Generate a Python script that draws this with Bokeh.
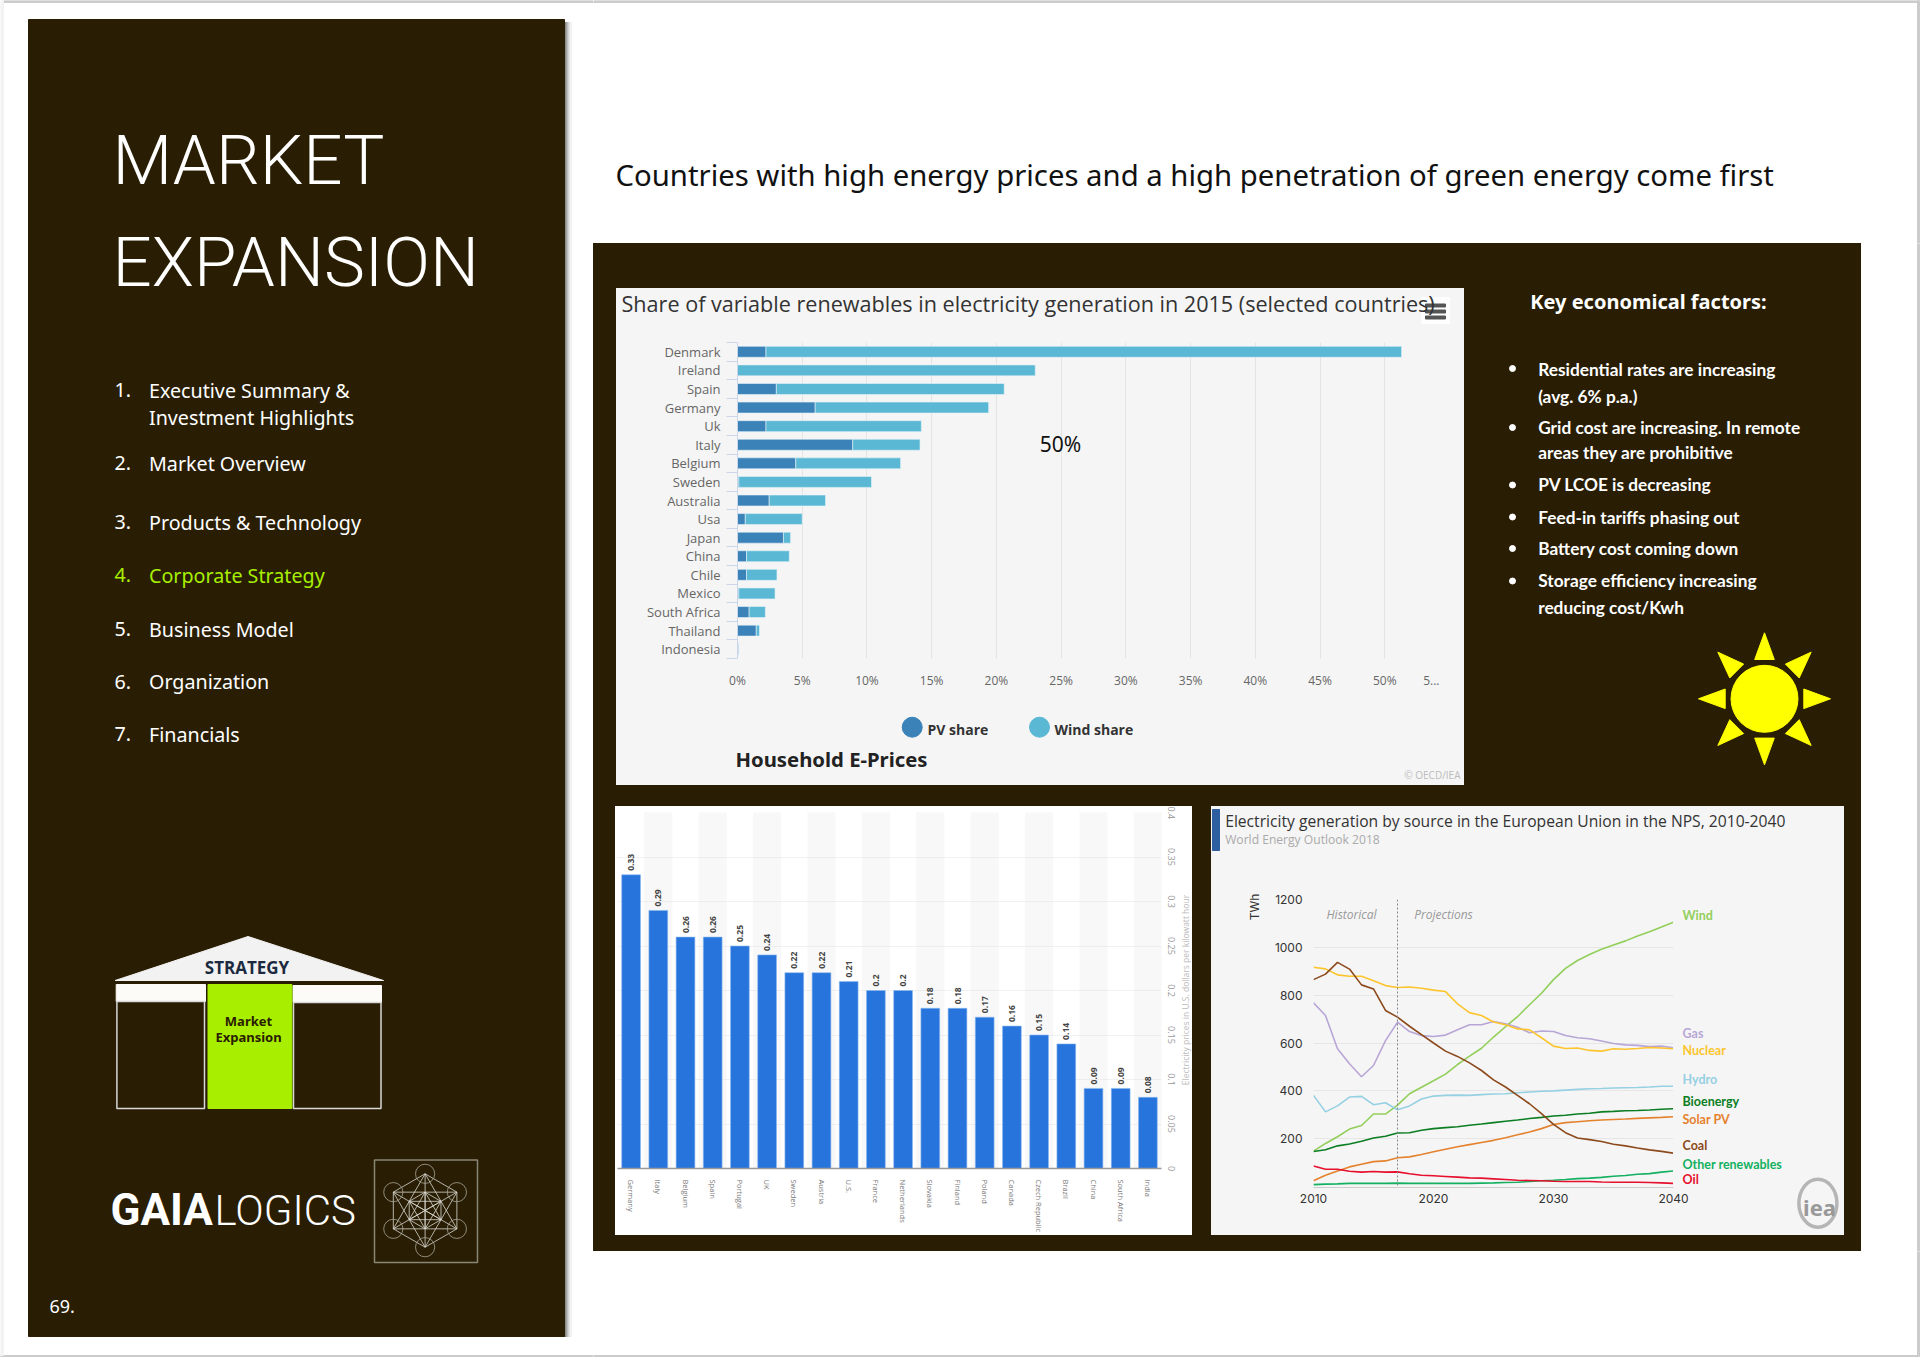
import math
from bokeh.plotting import figure
from bokeh.layouts import row, column
from bokeh.models import (Label, Range1d, FactorRange, LinearAxis, FixedTicker,
                          ColumnDataSource, Span)
from bokeh.embed import file_html
from bokeh.resources import INLINE
from bokeh.core.properties import value

# ---------- data ----------
heading_lines = ["MARKET", "EXPANSION"]
menu_numbers = ["1.", "2.", "3.", "4.", "5.", "6.", "7."]
menu_entries = ["Executive Summary &\nInvestment Highlights", "Market Overview", "Products & Technology",
                "Corporate Strategy", "Business Model", "Organization", "Financials"]
slide_title = "Countries with high energy prices and a high penetration of green energy come first"
key_heading = "Key economical factors:"
key_lines = ["Residential rates are increasing", "(avg. 6% p.a.)", "Grid cost are increasing. In remote",
             "areas they are prohibitive", "PV LCOE is decreasing", "Feed-in tariffs phasing out",
             "Battery cost coming down", "Storage efficiency increasing", "reducing cost/Kwh"]

share_countries = ["Denmark", "Ireland", "Spain", "Germany", "Uk", "Italy", "Belgium", "Sweden", "Australia",
                   "Usa", "Japan", "China", "Chile", "Mexico", "South Africa", "Thailand", "Indonesia"]
pv_share = [2.2, 0.0, 3.0, 6.0, 2.2, 8.9, 4.5, 0.1, 2.45, 0.6, 3.55, 0.7, 0.7, 0.1, 0.9, 1.45, 0.1]
wind_share = [49.1, 23.0, 17.6, 13.4, 12.0, 5.2, 8.1, 10.25, 4.35, 4.4, 0.55, 3.3, 2.35, 2.8, 1.25, 0.25, 0.0]
share_ticks = [0, 5, 10, 15, 20, 25, 30, 35, 40, 45, 50, 55]
share_label_ticks = [0, 5, 10, 15, 20, 25, 30, 35, 40, 45, 50, 53.6]
share_tick_labels = ["0%", "5%", "10%", "15%", "20%", "25%", "30%", "35%", "40%", "45%", "50%", "5..."]

price_countries = ["Germany", "Italy", "Belgium", "Spain", "Portugal", "UK", "Sweden", "Austria", "U.S.", "France",
                   "Netherlands", "Slovakia", "Finland", "Poland", "Canada", "Czech Republic", "Brazil", "China",
                   "South Africa", "India"]
price_values = [0.33, 0.29, 0.26, 0.26, 0.25, 0.24, 0.22, 0.22, 0.21, 0.2, 0.2, 0.18, 0.18, 0.17, 0.16, 0.15, 0.14,
                0.09, 0.09, 0.08]
price_ticks = [0, 0.05, 0.1, 0.15, 0.2, 0.25, 0.3, 0.35, 0.4]
price_tick_labels = ["0", "0.05", "0.1", "0.15", "0.2", "0.25", "0.3", "0.35", "0.4"]

years = list(range(2010, 2041))
wind = [148, 180, 208, 240, 255, 303, 303, 340, 388, 415, 442, 470, 510, 545, 578, 625, 668, 710, 760, 808, 865, 912,
        945, 970, 992, 1010, 1027, 1047, 1065, 1085, 1105]
coal = [865, 888, 937, 909, 843, 826, 736, 708, 670, 635, 600, 566, 544, 517, 485, 446, 416, 381, 346, 305, 260, 225,
        203, 196, 188, 177, 170, 161, 153, 147, 139]
nuclear = [917, 910, 885, 879, 879, 860, 840, 832, 834, 829, 821, 815, 764, 727, 715, 688, 676, 659, 655, 622, 587,
           577, 579, 569, 566, 576, 574, 577, 581, 579, 576]
gas = [768, 715, 576, 513, 459, 506, 610, 687, 648, 631, 627, 633, 655, 676, 676, 690, 680, 666, 643, 650, 648, 631,
       622, 618, 608, 598, 592, 590, 585, 587, 580]
hydro = [381, 312, 337, 374, 377, 342, 350, 321, 337, 366, 378, 381, 382, 381, 384, 387, 388, 392, 395, 398, 400, 403,
         406, 409, 410, 412, 413, 414, 416, 419, 419]
bioenergy = [146, 154, 170, 178, 189, 203, 210, 224, 225, 235, 242, 246, 250, 256, 261, 267, 273, 278, 284, 289, 295,
             298, 303, 306, 312, 314, 317, 318, 320, 323, 325]
solar_pv = [24, 47, 65, 82, 93, 104, 107, 120, 124, 134, 145, 156, 166, 175, 184, 193, 204, 216, 228, 242, 259, 267,
            271, 275, 278, 280, 282, 285, 287, 289, 292]
oil = [86, 72, 72, 64, 60, 63, 60, 61, 53, 47, 45, 42, 39, 36, 35, 32, 29, 26, 25, 24, 22, 21, 21, 21, 19, 18, 18, 18,
       17, 15, 13]
other_renewables = [8, 10, 11, 13, 13, 13, 13, 14, 13, 13, 13, 13, 13, 13, 14, 15, 17, 18, 21, 24, 26, 29, 33, 35, 38,
                    43, 46, 51, 54, 60, 65]
gen_names = ["Wind", "Gas", "Nuclear", "Hydro", "Bioenergy", "Solar PV", "Coal", "Other renewables", "Oil"]
gen_series = [wind, gas, nuclear, hydro, bioenergy, solar_pv, coal, other_renewables, oil]
gen_colors = ["#92cf5a", "#b8a6d6", "#fcc52e", "#95d0e3", "#0b7d22", "#e5822e", "#8c4a1c", "#12b060", "#e60f2d"]
gen_y_ticks = [200, 400, 600, 800, 1000, 1200]
gen_x_ticks = [2010, 2020, 2030, 2040]

# ---------- style ----------
DARK = "#291e04"
LIME = "#a8ee00"
EDGE = "#cccccc"
SANS = "Noto Sans"
OPEN = "Open Sans"
THIN = "'Roboto Light', Roboto"
PANEL = "#f5f5f5"


def put(p, ox, oy, x, y, text, size, color, font=SANS, style="normal", align="left", base="middle", angle=0.0,
        where=None):
    lab = Label(x=x - ox - 1, y=y - oy - 1.5, x_units="canvas", y_units="canvas", text=text,
                text_font_size=f"{size}px", text_color=color, text_font=font, text_font_style=style,
                text_align=align, text_baseline=base, angle=angle, angle_units="rad")
    if where:
        p.add_layout(lab, where)
    else:
        p.add_layout(lab)


def canvas_fig(x0, x1, y0, y1, fill):
    p = figure(width=x1 - x0, height=y1 - y0, x_range=Range1d(x0, x1), y_range=Range1d(y1, y0),
               x_axis_location=None, y_axis_location=None, toolbar_location=None, output_backend="svg",
               min_border=0, outline_line_color=None, background_fill_color=None, border_fill_color=fill,
               frame_align=False, styles={"background-color": fill})
    p.xgrid.visible = False
    p.ygrid.visible = False
    return p


# ---------- sidebar ----------
side = canvas_fig(0, 593, 0, 1357, "#ffffff")
side.quad(left=[3, 0], right=[593, 593], top=[0, 1355], bottom=[2, 1357], color=EDGE)
side.quad(left=[0], right=[3], top=[0], bottom=[1355], color="#f3f3f3")
for i, c in enumerate(["#6e6e6e", "#8a8a8a", "#a3a3a3", "#bcbcbc", "#d2d2d2", "#e4e4e4", "#f2f2f2"]):
    side.quad(left=[564 + i], right=[565 + i], top=[22], bottom=[1336], color=c)
side.quad(left=[28], right=[564], top=[19], bottom=[1336], color=DARK)
put(side, 0, 0, 113, 161, heading_lines[0], 69, "#ffffff", THIN)
put(side, 0, 0, 113, 263, heading_lines[1], 69, "#ffffff", THIN)
menu_y = [[391, 418], [464], [523], [576], [630], [682.5], [735]]
for n, e, ys, idx in zip(menu_numbers, menu_entries, menu_y, range(7)):
    col = LIME if idx == 3 else "#ffffff"
    put(side, 0, 0, 115, ys[0], n, 19.7, col)
    for line, y in zip(e.split("\n"), ys):
        put(side, 0, 0, 149.5, y, line, 19.7, col)

# temple
side.patch([114.6, 247.5, 383], [980, 936, 980], color="#f2f2f2")
put(side, 0, 0, 247.5, 968, "STRATEGY", 17, "#1c2a40", OPEN, "bold", "center")
side.quad(left=[115.7, 292.5], right=[205, 381], top=[984, 985], bottom=[1001, 1002], color="#fdfbf8")
side.quad(left=[116.4, 293], right=[204, 380.5], top=[1001, 1002], bottom=[1108, 1108], fill_color=None,
          line_color="#d8d8d8", line_width=1.5)
side.quad(left=[207.5], right=[291.4], top=[984], bottom=[1108], color=LIME)
put(side, 0, 0, 249, 1021.7, "Market", 13, "#2a2000", SANS, "bold", "center")
put(side, 0, 0, 249, 1037.7, "Expansion", 13, "#2a2000", SANS, "bold", "center")

# wordmark
put(side, 0, 0, 111, 1211, "GAIA", 44, "#ffffff", "Roboto", "bold")
put(side, 0, 0, 215, 1211, "LOGICS", 42, "#ffffff", THIN)

# icon
icx, icy, R = 424.6, 1210.0, 36.7
side.quad(left=[374], right=[477], top=[1159.5], bottom=[1262], fill_color=None, line_color="#8a8676", line_width=1.5)
hexa = [(icx + R * math.cos(math.pi / 2 + k * math.pi / 3), icy + R * math.sin(math.pi / 2 + k * math.pi / 3))
        for k in range(6)]
inner = [(icx + 0.5 * (a[0] - icx), icy + 0.5 * (a[1] - icy)) for a in hexa]
mx, my = [], []
for pts in (hexa, inner):
    for a in range(6):
        for b in range(a + 1, 6):
            mx.append([pts[a][0], pts[b][0]])
            my.append([pts[a][1], pts[b][1]])
side.multi_line(mx, my, line_color="#d9d8d0", line_width=0.8)
side.circle(x=[h[0] for h in hexa], y=[h[1] for h in hexa], radius=9.6, fill_color=None, line_color="#a8a698",
            line_width=0.8)
put(side, 0, 0, 50, 1307, "69.", 18, "#ffffff")

# ---------- slide title ----------
top = canvas_fig(593, 1920, 0, 243, "#ffffff")
top.quad(left=[593], right=[1919], top=[0], bottom=[2], color=EDGE)
top.quad(left=[1917], right=[1919], top=[0], bottom=[243], color=EDGE)
put(top, 593, 0, 616, 176, slide_title, 29.3, "#111111", SANS)

# ---------- chart 1 ----------
head1 = canvas_fig(616, 1464, 288, 338, PANEL)
put(head1, 616, 288, 622, 304, "Share of variable renewables in electricity generation in 2015 (selected countries)",
    21.6, "#333333", OPEN)
head1.quad(left=[1421], right=[1449], top=[297], bottom=[323], color="#ffffff", alpha=0.85)
head1.quad(left=[1425, 1425, 1425], right=[1445, 1445, 1445], top=[303.5, 309.5, 315.5], bottom=[306.5, 312.5, 318.5],
           color="#555555")

n_share = len(share_countries)
share_pos = [n_share - 0.5 - i for i in range(n_share)]
c1 = figure(width=848, height=362, x_range=Range1d(0, 55), y_range=Range1d(0, n_share),
            toolbar_location=None, output_backend="svg", min_border_left=121, min_border_right=15, min_border_top=4,
            min_border_bottom=42, background_fill_color=None, border_fill_color=PANEL,
            outline_line_color=None, y_axis_location=None, frame_align=False)
src1 = ColumnDataSource(dict(pos=share_pos, pv=pv_share, wind=wind_share))
c1.hbar_stack(["pv", "wind"], y="pos", height=0.59, color=["#3a82b8", "#5ab8d4"], source=src1,
              line_color="#e8f4f8", line_width=0.6)
c1.xgrid.ticker = FixedTicker(ticks=share_ticks)
c1.xgrid.grid_line_color = "#e4e4e4"
c1.ygrid.visible = False
ax = c1.xaxis[0]
ax.ticker = FixedTicker(ticks=share_label_ticks)
ax.major_label_overrides = dict(zip(share_label_ticks, share_tick_labels))
ax.axis_line_color = None
ax.major_tick_line_color = None
ax.minor_tick_line_color = None
ax.major_tick_out = 0
ax.major_label_standoff = 13
ax.major_label_text_font = OPEN
ax.major_label_text_font_size = "12px"
ax.major_label_text_color = "#666666"
cat_axis = LinearAxis(ticker=FixedTicker(ticks=share_pos, minor_ticks=list(range(n_share + 1))),
                      major_label_overrides=dict(zip(share_pos, share_countries)),
                      major_tick_line_color=None, minor_tick_line_color="#ccd6eb", axis_line_color="#ccd6eb",
                      minor_tick_out=11, minor_tick_in=0, major_tick_out=0, major_tick_in=0,
                      major_label_standoff=6, major_label_text_font=OPEN,
                      major_label_text_font_size="13px", major_label_text_color="#666666")
c1.add_layout(cat_axis, "left")
put(c1, 616, 338, 1061, 445, "50%", 21, "#111111", SANS, "normal", "center")

foot1 = canvas_fig(616, 1464, 700, 785, PANEL)
foot1.circle(x=[911.7, 1039], y=[726.7, 726.7], radius=10, color=["#3a82b8", "#5ab8d4"])
put(foot1, 616, 700, 928, 730, "PV share", 14, "#333333", OPEN, "bold")
put(foot1, 616, 700, 1055, 730, "Wind share", 14, "#333333", OPEN, "bold")
put(foot1, 616, 700, 736, 760, "Household E-Prices", 20.3, "#222222", SANS, "bold")
put(foot1, 616, 700, 1461, 776, "\u00a9 OECD/IEA", 10, "#bbbbbb", OPEN, "normal", "right")

block1 = column(head1, c1, foot1, spacing=0, margin=(45, 0, 21, 23), styles={"background-color": PANEL})

# ---------- key factors ----------
key = canvas_fig(1464, 1861, 243, 806, DARK)
put(key, 1464, 243, 1530.7, 302, key_heading, 20, "#ffffff", SANS, "bold")
key_y = [370, 397.7, 428.7, 453.7, 485.7, 518, 549.3, 581.7, 608.3]
for t, y in zip(key_lines, key_y):
    put(key, 1464, 243, 1538.7, y, t, 17.3, "#ffffff", "Lato", "bold")
key.circle(x=[1512] * 6, y=[368, 427, 484.5, 516.5, 548, 580.5], radius=3, color="#ffffff")
sx, sy = 1764.0, 698.3
key.circle(x=[sx], y=[sy], radius=33.5, color="#ffff00")
for k in range(8):
    a = k * math.pi / 4
    ca, sa = math.cos(a), math.sin(a)
    key.patch([sx + 66 * ca, sx + 39.3 * ca - 9.8 * sa, sx + 39.3 * ca + 9.8 * sa],
              [sy + 66 * sa, sy + 39.3 * sa + 9.8 * ca, sy + 39.3 * sa - 9.8 * ca], color="#ffff00")

# ---------- chart 2 ----------
c2 = figure(width=577, height=429, x_range=FactorRange(factors=price_countries), y_range=Range1d(0, 0.4),
            toolbar_location=None, output_backend="svg", min_border_left=2, min_border_right=31, min_border_top=6,
            min_border_bottom=66, background_fill_color=None, border_fill_color="#ffffff",
            outline_line_color=None, y_axis_location="right", frame_align=False)
c2.vbar(x=price_countries[1::2], top=[0.4] * len(price_countries[1::2]), width=1.0, color="#f8f8f8", level="underlay")
c2.vbar(x=price_countries, top=price_values, width=0.69, fill_color="#2874dd", line_color="#8ab8f0", line_width=0.6)
c2.text(x=price_countries, y=price_values, text=[str(v) for v in price_values], angle=math.pi / 2, text_align="left",
        text_baseline="middle", y_offset=-4, text_font=value(OPEN), text_font_size="8.5px", text_color="#444444",
        text_font_style="bold")
c2.xgrid.visible = False
c2.ygrid.ticker = FixedTicker(ticks=price_ticks)
c2.ygrid.grid_line_color = "#e2e2e2"
c2.ygrid.grid_line_dash = "1 1"
xa = c2.xaxis[0]
xa.major_label_orientation = "vertical"
xa.major_tick_line_color = None
xa.axis_line_color = "#999999"
xa.axis_line_width = 1.5
xa.major_label_standoff = 5
xa.major_label_text_font = OPEN
xa.major_label_text_font_size = "7.5px"
xa.major_label_text_color = "#777777"
ya = c2.yaxis[0]
ya.ticker = FixedTicker(ticks=price_ticks)
ya.major_label_overrides = dict(zip(price_ticks, price_tick_labels))
ya.major_label_orientation = "vertical"
ya.axis_line_color = None
ya.major_tick_line_color = None
ya.minor_tick_line_color = None
ya.major_tick_out = 0
ya.major_label_standoff = 6
ya.major_label_text_font = OPEN
ya.major_label_text_font_size = "9px"
ya.major_label_text_color = "#999999"
put(c2, 615, 806, 1185.5, 991, "Electricity prices in U.S. dollars per kilowatt hour", 8.5, "#bbbbbb", OPEN, "normal",
    "center", "middle", math.pi / 2, where="right")
block2 = column(c2, spacing=0, margin=(0, 19, 16, 22), styles={"background-color": "#ffffff"})

# ---------- chart 3 ----------
head3 = canvas_fig(1211, 1844, 806, 889, PANEL)
head3.quad(left=[1212], right=[1219], top=[809], bottom=[850], color="#2d5fa0")
put(head3, 1211, 806, 1225.7, 822, "Electricity generation by source in the European Union in the NPS, 2010-2040", 15.65,
    "#333333", OPEN)
put(head3, 1211, 806, 1225.7, 840, "World Energy Outlook 2018", 12.1, "#aaaaaa", OPEN)

gen_x_range = Range1d(2010, 2040)
c3 = figure(width=462, height=297, x_range=gen_x_range, y_range=Range1d(0, 1200), toolbar_location=None,
            output_backend="svg", min_border_left=102, min_border_right=0, min_border_top=10, min_border_bottom=0,
            background_fill_color=None, border_fill_color=PANEL, outline_line_color=None, frame_align=False,
            x_axis_location=None)
for s, col in zip(gen_series, gen_colors):
    c3.line(years, s, line_color=col, line_width=1.6)
c3.xgrid.visible = False
c3.ygrid.ticker = FixedTicker(ticks=gen_y_ticks)
c3.ygrid.grid_line_color = "#e6e6e6"
c3.add_layout(Span(location=2017, dimension="height", line_color="#888888", line_dash="2 2", line_width=1))
c3.yaxis.ticker = FixedTicker(ticks=gen_y_ticks)
ya3 = c3.yaxis[0]
ya3.major_tick_line_color = None
ya3.minor_tick_line_color = None
ya3.major_tick_out = 0
ya3.major_label_text_font = "Inter"
ya3.major_label_text_font_size = "12px"
ya3.major_label_text_color = "#333333"
ya3.axis_line_color = None
ya3.major_label_standoff = 11
put(c3, 1211, 889, 1255, 908, "TWh", 12, "#333333", "Inter", "normal", "center", "middle", math.pi / 2, where="left")
put(c3, 1211, 889, 1352, 915, "Historical", 12, "#999999", OPEN, "italic", "center")
put(c3, 1211, 889, 1444, 915, "Projections", 12, "#999999", OPEN, "italic", "center")

names3 = canvas_fig(1673, 1790, 889, 1186, PANEL)
gen_label_y = [916, 1034, 1051, 1080, 1102.7, 1120.7, 1146.7, 1165.7, 1180.7]
for n, col, y in zip(gen_names, gen_colors, gen_label_y):
    put(names3, 1673, 889, 1683, y, n, 12.5, col, "Lato", "bold")

axis3 = figure(width=579, height=49, x_range=gen_x_range, y_range=Range1d(0, 1), toolbar_location=None,
               output_backend="svg", min_border_left=102, min_border_right=117, min_border_top=0,
               min_border_bottom=48, background_fill_color=None, border_fill_color=PANEL, outline_line_color=None,
               frame_align=False, y_axis_location=None)
axis3.xgrid.visible = False
axis3.ygrid.visible = False
xa3 = axis3.xaxis[0]
xa3.ticker = FixedTicker(ticks=gen_x_ticks)
xa3.formatter.use_scientific = False
xa3.major_tick_line_color = None
xa3.minor_tick_line_color = None
xa3.major_tick_out = 0
xa3.major_label_text_font = "Inter"
xa3.major_label_text_font_size = "12px"
xa3.major_label_text_color = "#333333"
xa3.axis_line_color = "#cccccc"
xa3.major_label_standoff = 6

strip3 = canvas_fig(1790, 1844, 889, 1235, PANEL)
strip3.ellipse(x=[1817.4], y=[1202.7], width=38, height=48, fill_color=None, line_color="#b5b5b5", line_width=3.5)
put(strip3, 1790, 889, 1820, 1208, "iea", 22, "#999999", SANS, "bold", "center")

left3 = column(row(c3, names3, spacing=0), axis3, spacing=0)
block3 = column(head3, row(left3, strip3, spacing=0), spacing=0, margin=(0, 17, 16, 0),
                styles={"background-color": PANEL})

# ---------- page ----------
panel = column(row(block1, key, spacing=0), row(block2, block3, spacing=0), spacing=0, width=1268, height=1008,
               styles={"background-color": DARK})
edge_right = canvas_fig(1861, 1920, 243, 1251, "#ffffff")
edge_right.quad(left=[1917], right=[1919], top=[243], bottom=[1251], color=EDGE)
edge_bottom = canvas_fig(593, 1920, 1251, 1357, "#ffffff")
edge_bottom.quad(left=[593], right=[1919], top=[1355], bottom=[1357], color=EDGE)
edge_bottom.quad(left=[1917], right=[1919], top=[1251], bottom=[1357], color=EDGE)
right = column(top, row(panel, edge_right, spacing=0), edge_bottom, spacing=0)
page = row(side, right, spacing=0)
open("out.html", "w").write(file_html(page, INLINE))
